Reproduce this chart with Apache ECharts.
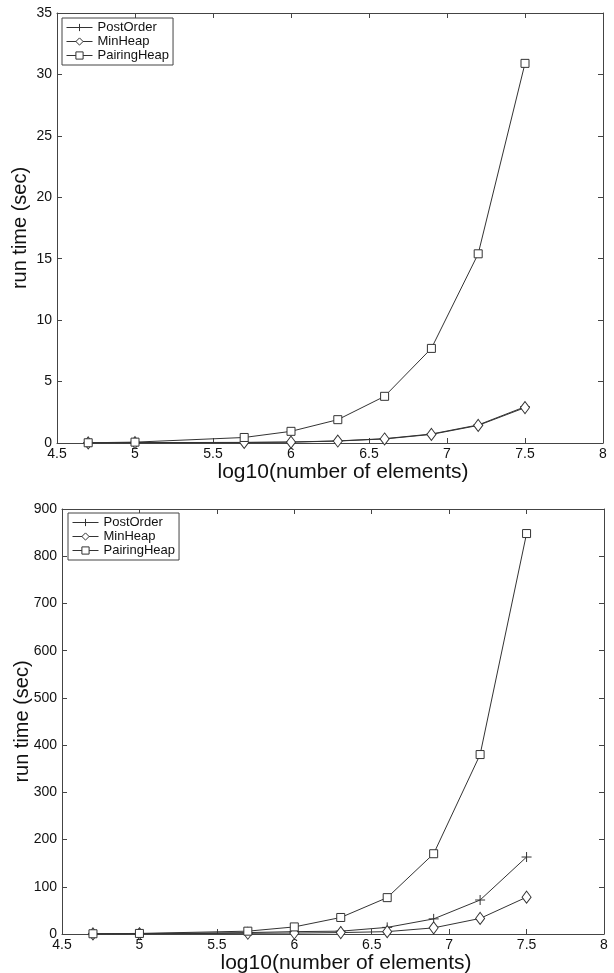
<!DOCTYPE html>
<html>
<head>
<meta charset="utf-8">
<script src="https://cdn.jsdelivr.net/npm/echarts@6/dist/echarts.min.js"></script>
<style>
html,body{margin:0;padding:0;background:#fff;}
#c{width:614px;height:973px;}
</style>
</head>
<body>
<div id="c"></div>
<script>
// ---- data ----
const xValues = [4.7, 5.0, 5.7, 6.0, 6.3, 6.6, 6.9, 7.2, 7.5];
const seriesNames = ['PostOrder', 'MinHeap', 'PairingHeap'];
// top chart (sec)
const topPostOrder   = [0.01, 0.03, 0.05, 0.08, 0.17, 0.35, 0.73, 1.47, 2.95];
const topMinHeap     = [0.01, 0.03, 0.04, 0.07, 0.16, 0.33, 0.70, 1.43, 2.88];
const topPairingHeap = [0.02, 0.07, 0.45, 0.95, 1.90, 3.80, 7.70, 15.40, 30.90];
// bottom chart (sec)
const botPostOrder   = [0.3, 0.8, 3, 5, 6, 14, 32, 72, 163];
const botMinHeap     = [0.2, 0.5, 1.5, 2, 3, 5, 13, 33, 78];
const botPairingHeap = [0.5, 1.2, 6, 15, 35, 77, 170, 380, 848];
const xTicks = {min: 4.5, max: 8, interval: 0.5};
const topYTicks = {min: 0, max: 35, interval: 5};
const botYTicks = {min: 0, max: 900, interval: 100};
const xTitle = 'log10(number of elements)';
const yTitle = 'run time (sec)';

// ---- styles ----
const FONT = 'Liberation Sans, Arial, Helvetica, sans-serif';
const AXC = '#444';
const plusPath = 'path://M5,0L5,10M0,5L10,5';
const symbols = {
  PostOrder: {symbol: plusPath, size: [10, 10]},
  MinHeap: {symbol: 'diamond', size: [9, 12]},
  PairingHeap: {symbol: 'rect', size: [8, 8]}
};

function pairs(arr){ return xValues.map((x,i)=>[x, arr[i]]); }

function mkSeries(name, arr, gi){
  const s = symbols[name];
  return {
    name: name, type: 'line', xAxisIndex: gi*2, yAxisIndex: gi*2,
    data: pairs(arr), symbol: s.symbol, symbolSize: s.size, showAllSymbol: true,
    lineStyle: {color: '#333', width: 1},
    itemStyle: {color: '#fff', borderColor: '#333', borderWidth: 1},
    emphasis: {disabled: true}, animation: false, z: name==='PairingHeap'?3:2
  };
}

function xAx(gi, main){
  return {
    type: 'value', gridIndex: gi, position: main ? 'bottom' : 'top',
    min: xTicks.min, max: xTicks.max, interval: xTicks.interval,
    axisLine: {show: true, onZero: false, lineStyle: {color: AXC, width: 1}},
    axisTick: {show: true, inside: true, length: 5, lineStyle: {color: AXC}},
    axisLabel: {show: main, color: '#111', fontSize: 14, fontFamily: FONT, margin: 4,
      formatter: v => String(+v.toFixed(1))},
    splitLine: {show: false},
    name: main ? xTitle : '', nameLocation: 'middle', nameGap: 19, nameMoveOverlap: false,
    nameTextStyle: {fontSize: 21, fontFamily: FONT, color: '#111', padding: [0,0,0,26]}
  };
}
function yAx(gi, main, t){
  return {
    type: 'value', gridIndex: gi, position: main ? 'left' : 'right',
    min: t.min, max: t.max, interval: t.interval,
    axisLine: {show: true, onZero: false, lineStyle: {color: AXC, width: 1}},
    axisTick: {show: true, inside: true, length: 5, lineStyle: {color: AXC}},
    axisLabel: {show: main, color: '#111', fontSize: 14, fontFamily: FONT, margin: 5},
    splitLine: {show: false},
    name: main ? yTitle : '', nameLocation: 'middle', nameMoveOverlap: false,
    nameGap: main ? (gi===0 ? 27 : 30) : 0,
    nameTextStyle: {fontSize: 20, fontFamily: FONT, color: '#111'}
  };
}

const legendBase = {
  orient: 'vertical', itemGap: 1, itemWidth: 26, itemHeight: 9,
  borderColor: AXC, borderWidth: 1, borderRadius: 0, padding: [3, 4, 3, 4],
  backgroundColor: '#fff',
  itemStyle: {borderWidth: 1, color: '#fff', borderColor: '#333'},
  lineStyle: {width: 1, color: '#333'},
  textStyle: {fontSize: 13, fontFamily: FONT, color: '#111'},
  data: seriesNames, selectedMode: false
};

const option = {
  backgroundColor: '#fff',
  animation: false,
  grid: [
    {left: 57, right: 11, top: 13, height: 430, outerBoundsMode: 'none', containLabel: false},
    {left: 62, right: 10, top: 509, height: 425, outerBoundsMode: 'none', containLabel: false}
  ],
  legend: [
    Object.assign({}, legendBase, {left: 62, top: 18}),
    Object.assign({}, legendBase, {left: 68, top: 513})
  ],
  xAxis: [xAx(0,true), xAx(0,false), xAx(1,true), xAx(1,false)],
  yAxis: [yAx(0,true,topYTicks), yAx(0,false,topYTicks), yAx(1,true,botYTicks), yAx(1,false,botYTicks)],
  series: [
    mkSeries('PostOrder', topPostOrder, 0),
    mkSeries('MinHeap', topMinHeap, 0),
    mkSeries('PairingHeap', topPairingHeap, 0),
    mkSeries('PostOrder', botPostOrder, 1),
    mkSeries('MinHeap', botMinHeap, 1),
    mkSeries('PairingHeap', botPairingHeap, 1)
  ]
};
const chart = echarts.init(document.getElementById('c'), null, {renderer: 'canvas'});
chart.setOption(option);
</script>
</body>
</html>
